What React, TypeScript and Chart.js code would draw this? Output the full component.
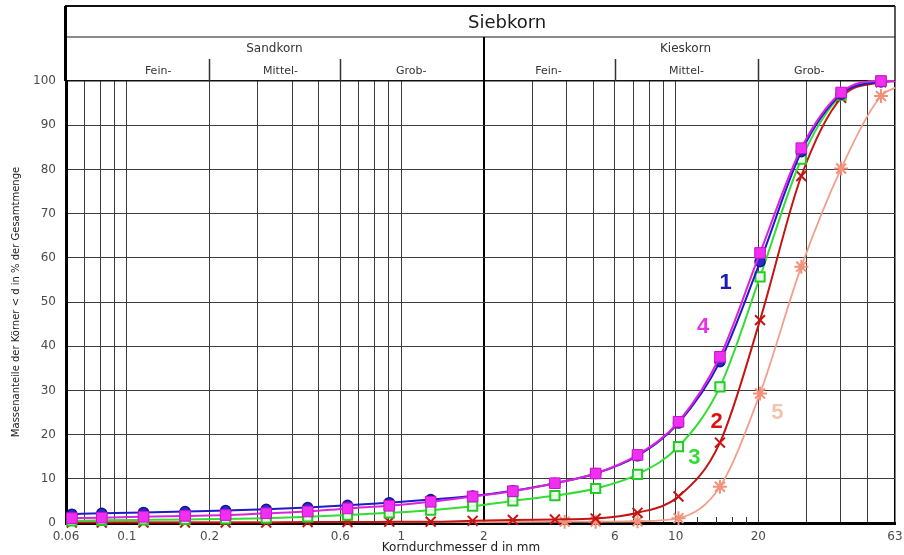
import React, { useEffect, useRef } from 'react';
import { Chart, registerables } from 'chart.js';

Chart.register(...registerables);

// ---------- data (grain size in mm, passing in %) ----------
const sieveMm = [0.063, 0.081, 0.115, 0.163, 0.229, 0.322, 0.456, 0.637, 0.904, 1.28, 1.82, 2.55, 3.63, 5.11, 7.26, 10.24, 14.5, 20.3, 28.7, 40.1, 56, 63];
const curve1 = [2.0, 2.2, 2.4, 2.6, 2.8, 3.1, 3.5, 4.0, 4.6, 5.3, 6.1, 7.3, 9.0, 11.2, 15.2, 22.6, 36.5, 59.1, 84.0, 97.0, 99.8, 100];
const curve2 = [0.1, 0.1, 0.1, 0.1, 0.1, 0.1, 0.2, 0.2, 0.3, 0.3, 0.5, 0.7, 0.8, 1.0, 2.3, 6.0, 18.2, 45.9, 78.5, 96.2, 99.7, 100];
const curve3 = [0.5, 0.6, 0.7, 0.8, 0.9, 1.1, 1.4, 1.8, 2.3, 2.9, 3.8, 5.0, 6.2, 7.8, 11.0, 17.3, 30.8, 55.7, 82.3, 96.8, 100, 100];
const curve4 = [1.1, 1.2, 1.4, 1.6, 1.8, 2.2, 2.6, 3.3, 3.9, 4.8, 6.0, 7.2, 9.0, 11.2, 15.4, 22.9, 37.6, 61.1, 84.8, 97.4, 100, 100];
const sieve5Mm = [0.063, 0.2, 0.6, 2, 3.94, 5.11, 7.26, 10.24, 14.5, 20.3, 28.7, 40.1, 56, 63];
const curve5 = [0.2, 0.2, 0.2, 0.2, 0.3, 0.3, 0.4, 1.1, 8.2, 29.3, 58.0, 80.2, 96.6, 98.5];

// ---------- axes ----------
const gridMm = [0.06, 0.07, 0.08, 0.09, 0.1, 0.2, 0.3, 0.4, 0.5, 0.6, 0.7, 0.8, 0.9, 1, 2, 3, 4, 5, 6, 7, 8, 9, 10, 20, 30, 40, 50, 63];
const xLabelMm = [0.06, 0.1, 0.2, 0.6, 1, 2, 6, 10, 20, 63];
const minorTickMm = [12, 14, 16, 18];
const xTitle = 'Korndurchmesser d in mm';
const yTitle = 'Massenanteile der Körner < d in % der Gesamtmenge';

// ---------- header (Siebkorn classification) ----------
const headerTitle = 'Siebkorn';
const headerTitleMm = 2.43;
const groupNames = ['Sandkorn', 'Kieskorn'];
const groupMm = [0.345, 10.86];
const groupBorderMm = 2;
const fractionNames = ['Fein-', 'Mittel-', 'Grob-', 'Fein-', 'Mittel-', 'Grob-'];
const fractionMm = [0.13, 0.363, 1.087, 3.44, 10.95, 30.7];
const fractionBorderMm = [0.2, 0.6, 6, 20];

// ---------- curve labels ----------
const curveNames = ['1', '2', '3', '4', '5'];
const curveLabelMm = [15.2, 14.1, 11.7, 12.6, 23.5];
const curveLabelPct = [54.3, 22.9, 14.7, 44.3, 24.9];
const curveLabelColors = ['#1a1ab4', '#e01010', '#33dd33', '#e633e6', '#f3c4ae'];

const FONT = "'DejaVu Sans', 'Liberation Sans', Arial, sans-serif";

const decorPlugin = {
  id: 'decor',
  afterDatasetsDraw(chart: any) {
    const { ctx, scales } = chart;
    const x = scales.x;
    const y = scales.y;
    ctx.save();
    ctx.font = `bold 22px 'Liberation Sans', Arial, sans-serif`;
    ctx.textAlign = 'center';
    ctx.textBaseline = 'middle';
    curveNames.forEach((n, i) => {
      ctx.fillStyle = curveLabelColors[i];
      ctx.fillText(n, x.getPixelForValue(curveLabelMm[i]), y.getPixelForValue(curveLabelPct[i]));
    });
    ctx.restore();
  },
  afterDraw(chart: any) {
    const { ctx, chartArea: a, scales } = chart;
    const x = scales.x;
    const top = 6;
    const midLine = 37;
    const divTop = 59;
    ctx.save();
    // minor ticks
    ctx.strokeStyle = '#333';
    ctx.lineWidth = 1;
    minorTickMm.forEach((v) => {
      const px = Math.round(x.getPixelForValue(v)) + 0.5;
      ctx.beginPath();
      ctx.moveTo(px, a.bottom - 6);
      ctx.lineTo(px, a.bottom);
      ctx.stroke();
    });
    // header frame
    ctx.strokeStyle = '#111';
    ctx.lineWidth = 2;
    ctx.beginPath();
    ctx.moveTo(a.left - 1, top);
    ctx.lineTo(a.right, top);
    ctx.stroke();
    ctx.strokeStyle = '#8a8a8a';
    ctx.lineWidth = 2;
    ctx.beginPath();
    ctx.moveTo(a.left, midLine);
    ctx.lineTo(a.right, midLine);
    ctx.stroke();
    ctx.strokeStyle = '#000';
    ctx.lineWidth = 3;
    ctx.beginPath();
    ctx.moveTo(a.left - 0.5, top);
    ctx.lineTo(a.left - 0.5, a.top);
    ctx.stroke();
    ctx.strokeStyle = '#222';
    ctx.lineWidth = 1.5;
    ctx.beginPath();
    ctx.moveTo(a.right, top);
    ctx.lineTo(a.right, a.top);
    ctx.stroke();
    ctx.strokeStyle = '#000';
    ctx.lineWidth = 2;
    const gx = Math.round(x.getPixelForValue(groupBorderMm));
    ctx.beginPath();
    ctx.moveTo(gx, midLine);
    ctx.lineTo(gx, a.top);
    ctx.stroke();
    ctx.strokeStyle = '#333';
    ctx.lineWidth = 1.5;
    fractionBorderMm.forEach((v) => {
      const px = Math.round(x.getPixelForValue(v)) + 0.5;
      ctx.beginPath();
      ctx.moveTo(px, divTop);
      ctx.lineTo(px, a.top);
      ctx.stroke();
    });
    // header text
    ctx.textAlign = 'center';
    ctx.textBaseline = 'middle';
    ctx.fillStyle = '#1a1a1a';
    ctx.font = `18px ${FONT}`;
    ctx.fillText(headerTitle, x.getPixelForValue(headerTitleMm), 23);
    ctx.fillStyle = '#333';
    ctx.font = `12px ${FONT}`;
    groupNames.forEach((n, i) => ctx.fillText(n, x.getPixelForValue(groupMm[i]), 49));
    ctx.font = `11px ${FONT}`;
    fractionNames.forEach((n, i) => ctx.fillText(n, x.getPixelForValue(fractionMm[i]), 71));
    // axis titles
    ctx.fillStyle = '#1a1a1a';
    ctx.font = `12px ${FONT}`;
    ctx.fillText(xTitle, 461, 548);
    ctx.save();
    ctx.translate(16, (a.top + a.bottom) / 2);
    ctx.rotate(-Math.PI / 2);
    ctx.font = `10px ${FONT}`;
    ctx.fillText(yTitle, 0, 0);
    ctx.restore();
    ctx.restore();
  },
};

function pts(xs: number[], ys: number[]) {
  return xs.map((v, i) => ({ x: v, y: ys[i] }));
}

export default function App() {
  const ref = useRef<HTMLCanvasElement | null>(null);
  useEffect(() => {
    document.body.style.margin = '0';
    const canvas = ref.current;
    if (!canvas) return;
    const markerR = (r: number, minX = 0) => (c: any) => {
      const raw = c.raw;
      if (!raw) return r;
      return raw.x >= 63 || raw.x < minX ? 0 : r;
    };
    const common = {
      cubicInterpolationMode: 'monotone',
      borderWidth: 2,
      clip: false,
      pointHoverRadius: 0,
    };
    const chart = new Chart(canvas, {
      type: 'line',
      data: {
        datasets: [
          {
            ...common,
            label: '1',
            data: pts(sieveMm, curve1),
            borderColor: '#1c1cc8',
            pointStyle: 'circle',
            pointRadius: markerR(5),
            pointBackgroundColor: '#2a2ad0',
            pointBorderColor: '#14148c',
            pointBorderWidth: 1.5,
            order: 1,
          },
          {
            ...common,
            label: '2',
            data: pts(sieveMm, curve2),
            borderColor: '#c41414',
            pointStyle: 'crossRot',
            pointRadius: markerR(7),
            pointBorderColor: '#c41414',
            pointBorderWidth: 2,
            order: 3,
          },
          {
            ...common,
            label: '3',
            data: pts(sieveMm, curve3),
            borderColor: '#33dd33',
            pointStyle: 'rect',
            pointRadius: markerR(6.5),
            pointBackgroundColor: 'rgba(240,255,240,0.9)',
            pointBorderColor: '#22cc22',
            pointBorderWidth: 2,
            order: 2,
          },
          {
            ...common,
            label: '4',
            data: pts(sieveMm, curve4),
            borderColor: '#dd22dd',
            pointStyle: 'rect',
            pointRadius: markerR(7.5),
            pointBackgroundColor: '#f030f0',
            pointBorderColor: '#cc10cc',
            pointBorderWidth: 1,
            order: 0,
          },
          {
            ...common,
            label: '5',
            data: pts(sieve5Mm, curve5),
            borderColor: '#f2a08c',
            borderWidth: 1.8,
            pointStyle: 'star',
            pointRadius: markerR(7, 3.5),
            pointBorderColor: '#f2907a',
            pointBorderWidth: 2,
            order: 4,
          },
        ],
      },
      options: {
        responsive: false,
        animation: false,
        events: [],
        layout: { padding: { top: 81, right: 7, left: 0, bottom: 0 } },
        plugins: { legend: { display: false }, tooltip: { enabled: false } },
        scales: {
          x: {
            type: 'logarithmic',
            min: 0.06,
            max: 63,
            afterFit: (s: any) => { s.height = 32; s.paddingLeft = 0; s.paddingRight = 0; },
            afterBuildTicks: (s: any) => { s.ticks = gridMm.map((v) => ({ value: v })); },
            ticks: {
              autoSkip: false,
              maxRotation: 0,
              minRotation: 0,
              padding: 7,
              color: '#4a4a4a',
              font: { family: FONT, size: 12 },
              callback: (v: any) => (xLabelMm.includes(Number(v)) ? String(v) : ''),
            },
            grid: {
              drawTicks: false,
              color: (c: any) => (c.tick && (c.tick.value === 2 || c.tick.value === 63) ? '#000' : '#3c3c3c'),
              lineWidth: (c: any) => (c.tick && c.tick.value === 2 ? 2 : c.tick && c.tick.value === 63 ? 1.5 : 1),
            },
            border: { color: '#000', width: 3 },
          },
          y: {
            min: 0,
            max: 100,
            afterFit: (s: any) => { s.width = 66; s.paddingTop = 0; s.paddingBottom = 0; },
            ticks: {
              stepSize: 10,
              padding: 10,
              color: '#4a4a4a',
              font: { family: FONT, size: 12 },
            },
            grid: {
              drawTicks: false,
              color: (c: any) => (c.tick && c.tick.value === 100 ? '#111' : '#3c3c3c'),
              lineWidth: (c: any) => (c.tick && c.tick.value === 100 ? 1.5 : 1),
            },
            border: { color: '#000', width: 3 },
          },
        },
      },
      plugins: [decorPlugin],
    } as any);
    return () => chart.destroy();
  }, []);
  return (
    <div style={{ position: 'absolute', left: 0, top: 0, width: 904, height: 555, background: '#fff' }}>
      <canvas ref={ref} width={904} height={555} style={{ display: 'block' }} />
    </div>
  );
}
